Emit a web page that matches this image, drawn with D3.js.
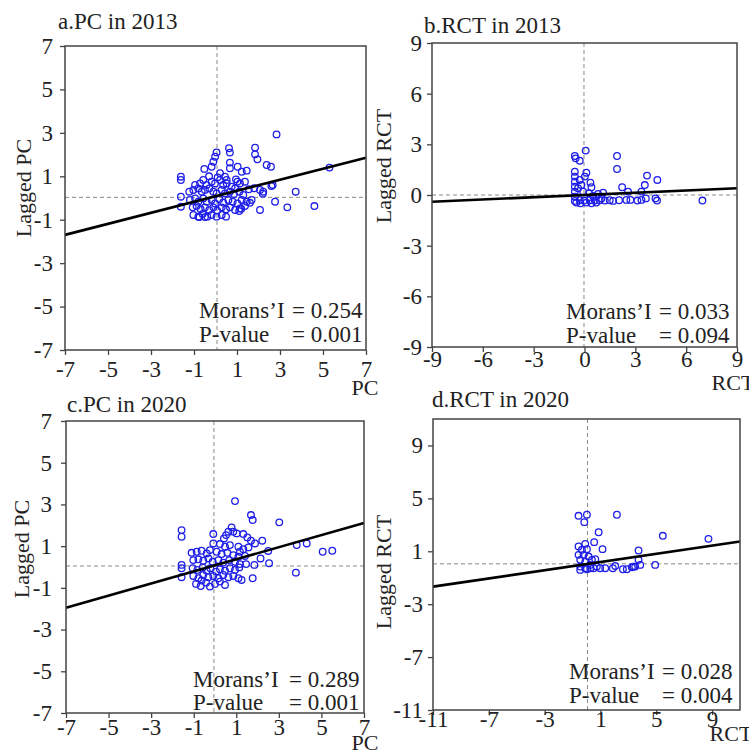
<!DOCTYPE html>
<html><head><meta charset="utf-8">
<script src="https://cdn.jsdelivr.net/npm/d3@7"></script>
<style>
body{margin:0;background:#fff}
svg{display:block}
text{font-family:"Liberation Serif","Times New Roman",serif;fill:#222}
</style>
</head><body>
<svg id="chart" width="749" height="751"></svg>
<script>
// ---------- data ----------
const titles = ["a.PC in 2013", "b.RCT in 2013", "c.PC in 2020", "d.RCT in 2020"];
const xLabels = ["PC", "RCT", "PC", "RCT"];
const yLabels = ["Lagged PC", "Lagged RCT", "Lagged PC", "Lagged RCT"];
const axisLimits = [7, 9, 7, 11];
const tickValues = [
  [-7, -5, -3, -1, 1, 3, 5, 7],
  [-9, -6, -3, 0, 3, 6, 9],
  [-7, -5, -3, -1, 1, 3, 5, 7],
  [-11, -7, -3, 1, 5, 9]
];
const moransI = ["0.254", "0.033", "0.289", "0.028"];
const pValues = ["0.001", "0.094", "0.001", "0.004"];
const slopes = [0.254, 0.044, 0.29, 0.155];
const intercepts = [0.08, 0.0, 0.08, 0.03];
const meanX = [0.07, -0.03, -0.05, 0.07];
const meanY = [0.03, 0.0, 0.05, 0.05];

const pc2013 = [
  [2.84,2.93],[0.63,2.29],[0.67,2.09],[1.84,2.32],[1.84,2.01],[1.95,1.78],[0.05,2.10],[-0.02,1.90],
  [-0.10,1.67],[-0.18,1.44],[-0.52,1.34],[0.67,1.63],[0.67,1.37],[1.03,1.44],[1.22,1.21],[1.45,1.26],
  [2.38,1.52],[2.58,1.44],[-1.61,0.98],[-1.61,0.83],[0.21,1.14],[0.44,0.98],[0.52,0.83],[0.95,0.86],
  [1.14,0.67],[1.37,0.75],[2.07,0.37],[2.22,0.29],[1.68,-0.09],[1.60,-0.22],[2.66,0.60],[3.73,0.29],
  [2.77,-0.17],[2.07,-0.55],[3.34,-0.43],[4.60,-0.37],[-1.61,0.06],[-1.61,-0.40],[5.30,1.40],
  [1.20,-0.50],[1.10,-0.60],[2.20,0.20],[2.60,0.55],[1.80,0.45],[1.55,0.40],
  [-0.95,0.60],[-0.72,0.67],[-0.57,0.83],[-0.41,0.60],[-0.18,0.75],[-0.02,0.67],[0.21,0.83],[0.36,0.60],
  [0.52,0.67],[0.75,0.52],[0.91,0.44],[1.02,0.75],[-0.30,1.00],[0.10,0.95],
  [-1.22,0.29],[-1.03,0.37],[-0.80,0.44],[-0.64,0.29],[-0.49,0.37],[-0.29,0.44],[-0.10,0.29],[0.05,0.21],
  [0.29,0.37],[0.44,0.21],[0.67,0.29],[0.86,0.18],[1.11,0.29],[1.29,0.14],
  [-1.19,-0.09],[-0.95,-0.02],[-0.80,-0.17],[-0.57,-0.02],[-0.41,-0.17],[-0.18,-0.09],[-0.02,-0.25],[0.18,-0.05],
  [0.36,-0.21],[0.60,-0.09],[0.80,-0.17],[1.02,-0.25],[1.22,-0.09],[1.45,-0.17],
  [-1.06,-0.43],[-0.88,-0.37],[-0.69,-0.52],[-0.49,-0.43],[-0.29,-0.55],[-0.10,-0.43],[0.08,-0.58],[0.29,-0.43],
  [0.49,-0.52],[0.67,-0.43],[0.91,-0.55],[1.14,-0.48],[1.37,-0.37],
  [-1.03,-0.78],[-0.80,-0.86],[-0.60,-0.74],[-0.38,-0.86],[-0.18,-0.78],[0.05,-0.86],[0.29,-0.78],[0.49,-0.86],
  [-0.75,-0.88],[-0.49,-0.88]
];

const rct2013 = [
  [0.07,2.63],[-0.57,2.31],[-0.52,2.17],[-0.28,2.03],[1.92,2.31],[1.92,1.54],
  [-0.57,1.38],[-0.57,1.09],[-0.57,0.79],[-0.57,0.49],[-0.57,0.20],[-0.57,-0.10],[-0.57,-0.35],
  [0.11,1.32],[0.02,1.09],[-0.28,0.89],[-0.18,0.59],[-0.38,0.40],[-0.08,0.20],[0.35,0.73],[0.41,0.46],
  [0.27,0.10],[0.51,-0.06],[0.80,0.06],[1.10,0.14],
  [-0.28,-0.31],[-0.02,-0.33],[0.31,-0.31],[0.61,-0.33],[0.90,-0.31],[1.20,-0.33],[1.49,-0.31],[1.69,-0.35],[2.04,-0.31],
  [2.22,0.46],[2.57,0.20],[3.69,1.15],[4.30,0.89],[3.56,0.59],[3.36,0.20],
  [2.71,-0.29],[3.12,-0.33],[3.36,-0.29],[3.62,-0.20],[4.19,-0.20],[4.28,-0.33],[6.96,-0.33],
  [-0.48,-0.45],[-0.24,-0.49],[0.11,-0.45],[0.41,-0.49],[0.70,-0.45],[0.70,-0.10],[1.00,-0.20],[2.47,-0.29]
];

const pc2020 = [
  [0.94,3.16],[1.69,2.49],[1.77,2.25],[3.02,2.14],[-1.57,1.77],[-1.57,1.45],[-0.08,1.58],
  [0.78,1.90],[0.63,1.69],[0.52,1.53],[0.42,1.37],[0.86,1.69],[1.02,1.61],[1.33,1.58],[1.52,1.42],
  [1.69,1.26],[1.88,1.13],[2.22,1.26],[2.50,0.77],[3.84,1.05],[4.31,1.13],[5.06,0.73],[5.51,0.78],
  [3.80,-0.27],[2.14,0.41],[2.54,0.18],[1.85,0.10],[1.46,0.14],[1.77,-0.54],[1.25,-0.62],
  [-1.57,0.10],[-1.57,-0.06],[-1.57,-0.49],
  [-0.08,1.13],[0.23,1.10],[0.47,0.97],[0.70,1.05],[1.10,0.97],[1.33,0.85],[1.57,0.94],[1.17,0.73],
  [-1.10,0.68],[-0.86,0.73],[-0.63,0.78],[-0.39,0.65],[-0.24,0.81],[0.08,0.73],[0.31,0.62],[0.58,0.68],
  [0.86,0.57],[1.10,0.49],[1.41,0.53],
  [-1.02,0.33],[-0.78,0.37],[-0.55,0.30],[-0.31,0.41],[-0.11,0.25],[0.16,0.33],[0.39,0.21],[0.67,0.33],
  [0.94,0.25],[1.17,0.14],
  [-1.05,-0.06],[-0.83,-0.14],[-0.58,-0.02],[-0.39,-0.18],[-0.22,-0.06],[0.05,-0.22],[0.23,-0.11],[0.47,-0.18],
  [0.70,-0.06],[0.94,-0.14],[1.14,-0.02],
  [-1.02,-0.43],[-0.78,-0.54],[-0.55,-0.38],[-0.31,-0.49],[-0.08,-0.43],[0.16,-0.54],[0.39,-0.38],[0.63,-0.49],
  [0.86,-0.43],[1.10,-0.54],
  [-0.89,-0.81],[-0.67,-0.91],[-0.42,-0.75],[-0.24,-0.94],[0.00,-0.81],[0.23,-0.70],[0.47,-0.86],[-0.63,-0.65]
];

const rct2020 = [
  [-0.57,3.68],[0.03,3.76],[-0.16,3.20],[2.18,3.76],[0.87,2.44],[5.47,2.17],[8.74,1.94],
  [-0.57,1.36],[-0.09,1.56],[-0.33,1.11],[0.03,1.16],[0.55,1.69],[1.15,1.16],[3.73,1.06],
  [-0.57,0.73],[-0.21,0.73],[0.15,0.60],[0.39,0.35],[0.63,0.40],[-0.45,0.35],[-0.09,0.22],[0.27,-0.03],
  [3.73,0.35],[3.85,-0.03],[4.92,-0.03],
  [-0.45,-0.16],[-0.09,-0.28],[0.27,-0.28],[0.74,-0.16],[0.98,-0.28],[1.34,-0.28],[1.89,-0.28],
  [2.89,-0.36],[3.25,-0.21],[2.06,-0.11],[3.49,-0.16],[-0.45,-0.41],[0.03,-0.36],[0.51,-0.28],
  [2.61,-0.36],[3.37,-0.16]
];

const seriesData = [pc2013, rct2013, pc2020, rct2020];

// ---------- layout (pixels) ----------
const layout = [
  {l:65,  r:366, t:46,  b:350, title:[58,29],   ylab:[31,188],  xlab:[365,395], ann:[199,292,318,342], xPad:6,  yPad:7},
  {l:432, r:737, t:43,  b:347, title:[424,33],  ylab:[391,166], xlab:[733,390], ann:[566,659,319,343], xPad:-1, yPad:5},
  {l:66,  r:364, t:421, b:713, title:[67,412],  ylab:[29,549],  xlab:[365,750], ann:[193,289,687,710], xPad:1,  yPad:9},
  {l:433, r:740, t:419, b:710, title:[432,407], ylab:[391,572], xlab:[731,741], ann:[569,662,679,703], xPad:-4, yPad:5}
];

const svg = d3.select("#chart");
const FS = 23;

layout.forEach((L, i) => {
  const lim = axisLimits[i];
  const x = d3.scaleLinear().domain([-lim, lim]).range([L.l, L.r]);
  const y = d3.scaleLinear().domain([-lim, lim]).range([L.b, L.t]);
  const g = svg.append("g");

  // dashed mean lines
  g.append("line").attr("x1", x(meanX[i])).attr("x2", x(meanX[i])).attr("y1", L.t).attr("y2", L.b)
    .attr("stroke", "#8a8a8a").attr("stroke-width", 1).attr("stroke-dasharray", "4,3");
  g.append("line").attr("x1", L.l).attr("x2", L.r).attr("y1", y(meanY[i])).attr("y2", y(meanY[i]))
    .attr("stroke", "#8a8a8a").attr("stroke-width", 1).attr("stroke-dasharray", "4,3");

  // points
  g.append("g").selectAll("circle").data(seriesData[i]).join("circle")
    .attr("cx", d => x(d[0])).attr("cy", d => y(d[1])).attr("r", 3.3)
    .attr("fill", "none").attr("stroke", "#1e1ee8").attr("stroke-width", 1.3);

  // regression line
  const line = d3.line().x(d => x(d)).y(d => y(slopes[i] * d + intercepts[i]));
  g.append("path").datum([-lim, lim]).attr("d", line)
    .attr("fill", "none").attr("stroke", "#000").attr("stroke-width", 2.6);

  // frame
  g.append("rect").attr("x", L.l).attr("y", L.t).attr("width", L.r - L.l).attr("height", L.b - L.t)
    .attr("fill", "none").attr("stroke", "#444").attr("stroke-width", 1.5);

  // axes
  const fmt = d => String(d);
  const xa = g.append("g").attr("transform", `translate(0,${L.b})`)
    .call(d3.axisBottom(x).tickValues(tickValues[i]).tickSize(5).tickSizeOuter(0).tickPadding(L.xPad).tickFormat(fmt));
  const ya = g.append("g").attr("transform", `translate(${L.l},0)`)
    .call(d3.axisLeft(y).tickValues(tickValues[i]).tickSize(5).tickSizeOuter(0).tickPadding(L.yPad).tickFormat(fmt));
  [xa, ya].forEach(a => {
    a.select(".domain").remove();
    a.attr("font-size", FS).attr("font-family", null);
    a.selectAll("line").attr("stroke", "#444").attr("stroke-width", 1.3);
    a.selectAll("text").attr("fill", "#222");
  });

  // title
  g.append("text").attr("x", L.title[0]).attr("y", L.title[1]).attr("font-size", FS).text(titles[i]);
  // y label
  g.append("text").attr("transform", `translate(${L.ylab[0]},${L.ylab[1]}) rotate(-90)`)
    .attr("text-anchor", "middle").attr("font-size", 22).text(yLabels[i]);
  // x label
  g.append("text").attr("x", L.xlab[0]).attr("y", L.xlab[1]).attr("text-anchor", "middle")
    .attr("font-size", 22).text(xLabels[i]);
  // annotation
  g.append("text").attr("x", L.ann[0]).attr("y", L.ann[2]).attr("font-size", FS).text("Morans\u2019I");
  g.append("text").attr("x", L.ann[1]).attr("y", L.ann[2]).attr("font-size", FS).text("= " + moransI[i]);
  g.append("text").attr("x", L.ann[0]).attr("y", L.ann[3]).attr("font-size", FS).text("P-value");
  g.append("text").attr("x", L.ann[1]).attr("y", L.ann[3]).attr("font-size", FS).text("= " + pValues[i]);
});
</script>
</body></html>
